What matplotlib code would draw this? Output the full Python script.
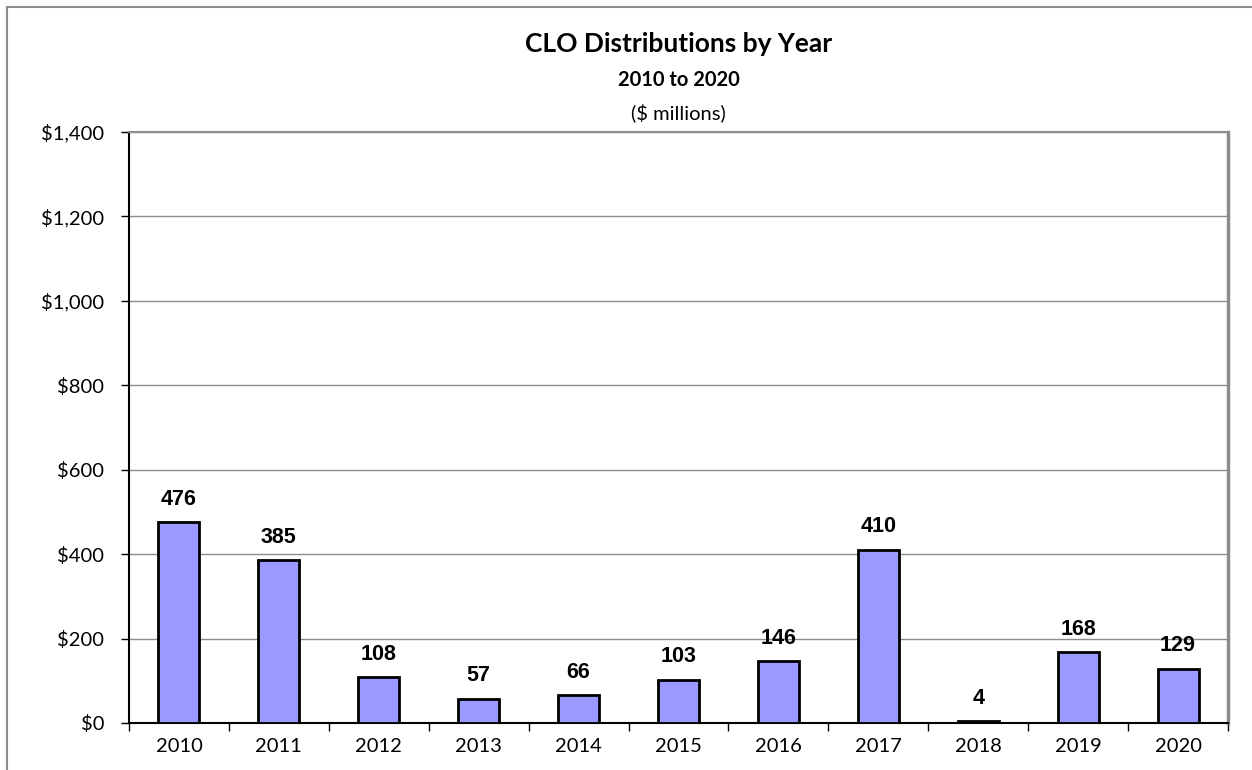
import numpy as np
import matplotlib.pyplot as plt
from matplotlib.patches import Rectangle

years = ['2010', '2011', '2012', '2013', '2014', '2015', '2016', '2017', '2018', '2019', '2020']
values = [476, 385, 108, 57, 66, 103, 146, 410, 4, 168, 129]
y_ticks = [0, 200, 400, 600, 800, 1000, 1200, 1400]

fig = plt.figure(figsize=(12.52, 7.70), dpi=100)
ax = fig.add_axes([129 / 1252, 1 - 723 / 770, (1228 - 129) / 1252, (723 - 132) / 770])

# outer chart border (gray frame)
fig.add_artist(Rectangle((7 / 1252, -0.1), 1.2, 1 - 7 / 770 + 0.1, transform=fig.transFigure,
                         fill=False, edgecolor='#8c8c8c', linewidth=1.5))

x = np.arange(len(years))
ax.bar(x, values, width=0.41, color='#9999ff', edgecolor='black', linewidth=2, zorder=3)

for xi, v in zip(x, values):
    ax.annotate(str(v), (xi, v), xytext=(0, 9), textcoords='offset points',
                ha='center', va='bottom', fontsize=15.5, fontweight='bold',
                family='Liberation Sans')

ax.set_xlim(-0.5, len(years) - 0.5)
ax.set_ylim(0, 1400)
ax.set_yticks(y_ticks)
ax.set_yticklabels([f'${v:,}' for v in y_ticks], family='Lato', fontsize=14.5)
ax.set_xticks(x)
ax.set_xticklabels(years, family='Lato', fontsize=14.5)
ax.set_xticks(np.arange(-0.5, len(years)), minor=True)
ax.tick_params(axis='x', which='major', length=0, pad=11)
ax.tick_params(axis='x', which='minor', length=6, width=1, color='black', direction='out')
ax.tick_params(axis='y', length=6, width=1, direction='out', pad=12)

ax.yaxis.grid(True, color='#8c8c8c', linewidth=1, zorder=0)
ax.set_axisbelow(True)
ax.spines['left'].set_color('black')
ax.spines['left'].set_linewidth(1.5)
ax.spines['bottom'].set_color('black')
ax.spines['bottom'].set_linewidth(1.5)
ax.spines['top'].set_color('#8c8c8c')
ax.spines['top'].set_linewidth(1.5)
ax.spines['right'].set_color('#8c8c8c')
ax.spines['right'].set_linewidth(2.5)

cx = (129 + 1228) / 2 / 1252
fig.text(cx, 1 - 44 / 770, 'CLO Distributions by Year', ha='center', va='center',
         fontsize=19, fontweight='bold', family='Lato')
fig.text(cx, 1 - 80 / 770, '2010 to 2020', ha='center', va='center',
         fontsize=14.5, fontweight='bold', family='Lato')
fig.text(cx, 1 - 113 / 770, '($ millions)', ha='center', va='center',
         fontsize=14.5, family='Lato')

fig.savefig('out.png', dpi=100)
